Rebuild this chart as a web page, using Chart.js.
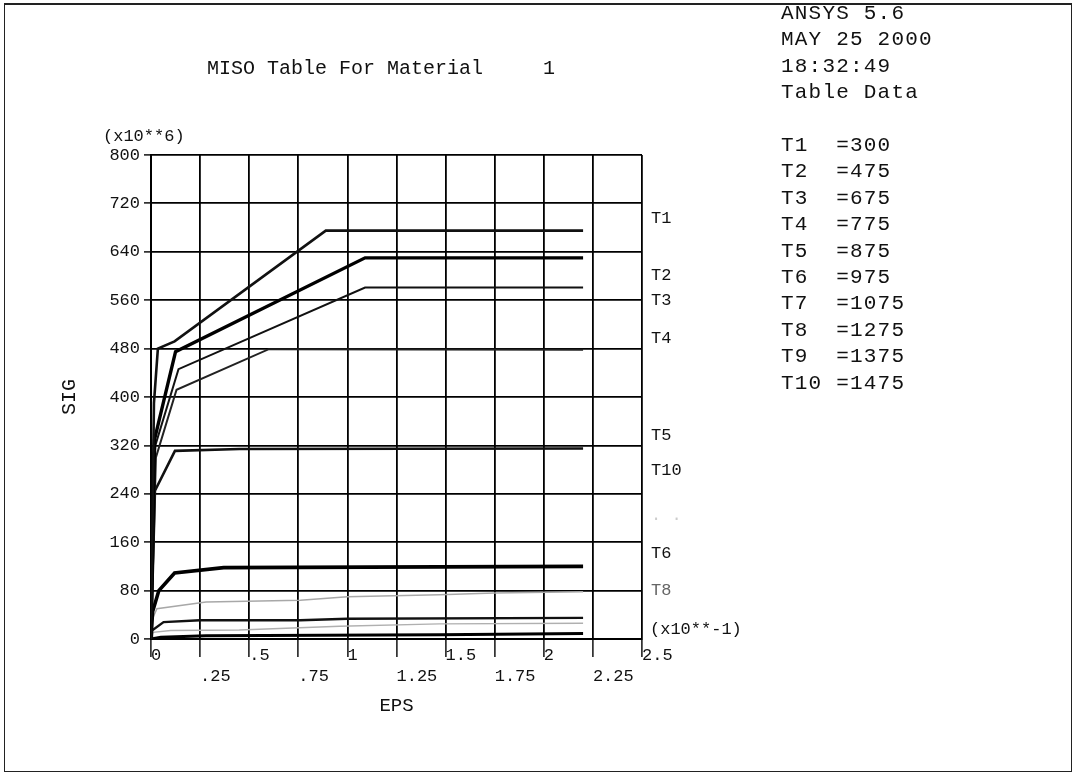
<!DOCTYPE html>
<html>
<head>
<meta charset="utf-8">
<script src="https://cdn.jsdelivr.net/npm/chart.js@4.4.0/dist/chart.umd.min.js"></script>
<style>
  body { margin: 0; background: #fff; }
  #page { position: relative; width: 1076px; height: 775px; overflow: hidden;
          font-family: "Liberation Mono", "Courier New", monospace; color: #111; }
  #frame { position: absolute; left: 4px; top: 3px; width: 1066px; height: 766px;
           border: 1px solid #222; border-top-width: 2px; }
  #miso { position: absolute; left: 0; top: 0; }
  .txt { position: absolute; white-space: pre; line-height: 1; transform: translateY(-50%); }
  .big { font-size: 20px; }
  .lab { font-size: 17px; }
  #panel { position: absolute; left: 781px; top: 1px; font-size: 21px; letter-spacing: 1.2px;
           line-height: 26.4px; white-space: pre; }
</style>
</head>
<body>
<div id="page">
  <div id="frame"></div>
  <canvas id="miso" width="1076" height="775"></canvas>
  <div class="txt big" style="left:207px; top:69px;">MISO Table For Material     1</div>
  <div class="txt lab" style="left:103px; top:136px;">(x10**6)</div>
  <div id="panel"></div>
  <div id="curveLabels"></div>
  <div class="txt lab" style="left:650px; top:629px;">(x10**-1)</div>
</div>
<script>
// axis ticks
const xTickLabels = ['0', '.25', '.5', '.75', '1', '1.25', '1.5', '1.75', '2', '2.25', '2.5'];
const ySteps = 80;

// table temperatures
const tempNames = ['T1', 'T2', 'T3', 'T4', 'T5', 'T6', 'T7', 'T8', 'T9', 'T10'];
const temps = [300, 475, 675, 775, 875, 975, 1075, 1275, 1375, 1475];

// stress-strain curves (EPS x10**-1, SIG x10**6)
const epsT1 = [0, 0.015, 0.035, 0.12, 0.89, 2.2];
const sigT1 = [0, 390, 480, 492, 675, 675];
const epsT2 = [0, 0.018, 0.125, 1.09, 2.2];
const sigT2 = [0, 330, 475, 630, 630];
const epsT3 = [0, 0.022, 0.14, 1.09, 2.2];
const sigT3 = [0, 320, 446, 581, 581];
const epsT4 = [0, 0.025, 0.13, 0.6, 2.2];
const sigT4 = [0, 300, 412, 479, 478];
const epsT5 = [0, 0.02, 0.122, 0.45, 2.2];
const sigT5 = [0, 245, 311, 314, 315];
const epsT6 = [0, 0.008, 0.04, 0.12, 0.37, 2.2];
const sigT6 = [0, 45, 80, 109, 118, 120];
const epsT7 = [0, 0.01, 0.03, 0.28, 0.76, 1.0, 1.47, 1.75, 2.2];
const sigT7 = [0, 35, 50, 61, 64, 70, 73, 76, 78];
const epsT8 = [0, 0.005, 0.064, 0.25, 0.76, 1.0, 2.2];
const sigT8 = [0, 14, 28, 31, 31, 33.5, 35];
const epsT9 = [0, 0.01, 0.1, 0.45, 0.96, 1.47, 2.2];
const sigT9 = [0, 11, 14, 15, 21, 25, 26];
const epsT10 = [0, 0.05, 0.28, 1.47, 2.2];
const sigT10 = [0, 3, 5.5, 7, 9];

// labels at the right of the plot
const curveLabelText = ['T1', 'T2', 'T3', 'T4', 'T5', 'T10', '. .', 'T6', 'T8'];
const curveLabelY = [218, 275, 300, 338, 435, 470, 515, 553, 590];

const epsAll = [epsT1, epsT2, epsT3, epsT4, epsT5, epsT6, epsT7, epsT8, epsT9, epsT10];
const sigAll = [sigT1, sigT2, sigT3, sigT4, sigT5, sigT6, sigT7, sigT8, sigT9, sigT10];
const lineColors = ['#111', '#000', '#111', '#222', '#111', '#000', '#a8a8a8', '#111', '#b0b0b0', '#000'];
const lineWidths = [2.6, 3.4, 2, 2, 2.6, 3.6, 1.5, 2.4, 1.5, 3];

// side panel
let panelLines = ['ANSYS 5.6', 'MAY 25 2000', '18:32:49', 'Table Data', ''];
for (let i = 0; i < tempNames.length; i++) {
    panelLines.push((tempNames[i] + '   ').slice(0, 4) + '=' + temps[i]);
}
document.getElementById('panel').textContent = panelLines.join('\n');

let labHtml = '';
for (let i = 0; i < curveLabelText.length; i++) {
    let col = curveLabelText[i] === '. .' ? '#ccc' : (curveLabelText[i] === 'T8' ? '#666' : '#111');
    labHtml += '<div class="txt lab" style="left:651px; top:' + curveLabelY[i] + 'px; color:' + col + ';">' + curveLabelText[i] + '</div>';
}
document.getElementById('curveLabels').innerHTML = labHtml;

const datasets = [];
for (let i = 0; i < epsAll.length; i++) {
    datasets.push({
        label: tempNames[i] + ' =' + temps[i],
        data: epsAll[i].map((e, j) => ({x: e, y: sigAll[i][j]})),
        showLine: true,
        borderColor: lineColors[i],
        borderWidth: lineWidths[i],
        pointRadius: 0,
        tension: 0,
    });
}

Chart.defaults.font.family = '"Liberation Mono", "Courier New", monospace';
Chart.defaults.color = '#111';

const misoChart = new Chart(document.getElementById('miso'), {
    type: 'scatter',
    data: { datasets: datasets },
    options: {
        responsive: false,
        animation: false,
        layout: { padding: { left: 58, top: 155, right: 434, bottom: 54 } },
        plugins: { legend: { display: false }, tooltip: { enabled: false } },
        scales: {
            x: {
                type: 'linear', min: 0, max: 2.5,
                ticks: {
                    stepSize: 0.25, align: 'start', padding: -12, autoSkip: false, maxRotation: 0,
                    font: { size: 17, lineHeight: 1.25 },
                    callback: (v) => {
                        let i = Math.round(v / 0.25);
                        return i % 2 ? ['', xTickLabels[i]] : xTickLabels[i];
                    }
                },
                grid: { color: '#000', lineWidth: 1.8, tickLength: 18, tickColor: '#000', tickWidth: 1.4 },
                border: { color: '#000', width: 2 },
                title: { display: true, text: 'EPS', font: { size: 19 }, padding: { top: 0, bottom: 4 } },
                afterFit: (s) => { s.height = 82; }
            },
            y: {
                min: 0, max: 800,
                ticks: { stepSize: ySteps, padding: 4, font: { size: 17 } },
                grid: { color: '#000', lineWidth: 1.8, tickLength: 7, tickColor: '#000', tickWidth: 1.4 },
                border: { color: '#000', width: 2 },
                title: { display: true, text: 'SIG', font: { size: 20 }, padding: { top: 0, bottom: 0 } },
                afterFit: (s) => { s.width = 93; }
            }
        }
    }
});
</script>
</body>
</html>
